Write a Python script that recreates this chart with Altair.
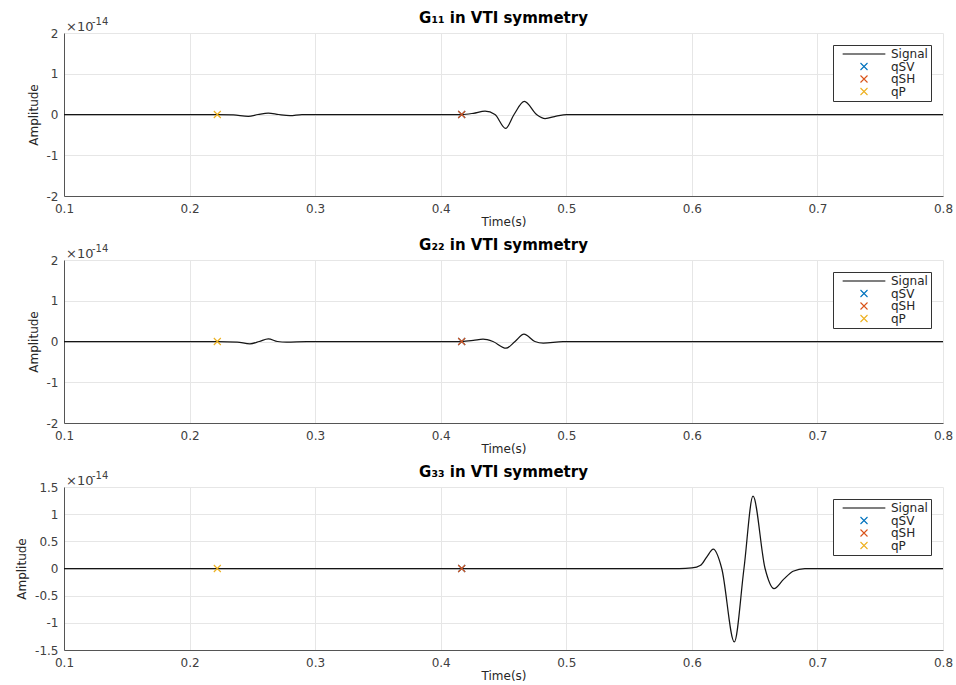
import altair as alt
import pandas as pd

# ---------------- data (amplitudes in units of 1e-14) ----------------
g11_time = [0.10, 0.2221, 0.2350, 0.2468, 0.2545, 0.2627, 0.2710, 0.2800, 0.2895,
            0.4167, 0.4260, 0.4353, 0.4432, 0.4517, 0.4584, 0.4666, 0.4764, 0.4831,
            0.4920, 0.5003, 0.80]
g11_amp = [0, 0, -0.01, -0.045, 0, 0.035, 0, -0.025, 0,
           0, 0.03, 0.083, 0, -0.34, 0, 0.32, 0, -0.10,
           -0.04, 0, 0]

g22_time = [0.10, 0.2221, 0.2380, 0.2481, 0.2555, 0.2627, 0.2700, 0.2773, 0.2933,
            0.4167, 0.4260, 0.4337, 0.4416, 0.4520, 0.4592, 0.4663, 0.4750, 0.4817,
            0.4974, 0.80]
g22_amp = [0, 0, -0.015, -0.057, 0, 0.065, 0, -0.016, 0,
           0, 0.025, 0.057, 0, -0.165, 0, 0.18, 0, -0.04,
           0, 0]

g33_time = [0.10, 0.5900, 0.6000, 0.6070, 0.6118, 0.6171, 0.6238, 0.6338, 0.6415,
            0.6487, 0.6583, 0.6654, 0.6730, 0.6806, 0.6900, 0.80]
g33_amp = [0, 0, 0.01, 0.06, 0.21, 0.355, 0, -1.35, 0,
           1.33, 0, -0.37, -0.20, -0.05, 0, 0]

arrival_phase = ["qSV", "qSH", "qP"]
arrival_time = [0.4167, 0.4167, 0.2221]
arrival_amp = [0, 0, 0]

legend_names = ["Signal", "qSV", "qSH", "qP"]
legend_colors = ["#000000", "#0072BD", "#D95319", "#EDB120"]

titles = ["G\u2081\u2081 in VTI symmetry", "G\u2082\u2082 in VTI symmetry", "G\u2083\u2083 in VTI symmetry"]
x_ticks = [0.1, 0.2, 0.3, 0.4, 0.5, 0.6, 0.7, 0.8]
y_ticks_12 = [-2, -1, 0, 1, 2]
y_ticks_3 = [-1.5, -1.0, -0.5, 0.0, 0.5, 1.0, 1.5]
y_dom_12 = [-2, 2]
y_dom_3 = [-1.5, 1.5]
exp_base = ["\u00d710"]
exp_power = ["-14"]

X_PATH = "M-1,-1L1,1M-1,1L1,-1"
LINE_PATH = "M-6.1,0L6.1,0"
legend_shapes = [LINE_PATH, X_PATH, X_PATH, X_PATH]

FONT = "DejaVu Sans"


def panel(title, t, a, ydom, yticks):
    sig = pd.DataFrame({"t": t, "a": a})
    arr = pd.DataFrame({"t": arrival_time, "a": arrival_amp, "phase": arrival_phase})

    x = alt.X("t:Q",
              scale=alt.Scale(domain=[0.1, 0.8], nice=False, zero=False),
              axis=alt.Axis(title="Time(s)", values=x_ticks, labelExpr="'' + datum.value",
                            labelFlush=False, labelOverlap=False))
    y = alt.Y("a:Q",
              scale=alt.Scale(domain=ydom, nice=False, zero=False),
              axis=alt.Axis(title="Amplitude", values=yticks, labelExpr="'' + datum.value",
                            labelFlush=False, labelOverlap=False, tickCount=len(yticks)))

    line = alt.Chart(sig).mark_line(color="#151515", strokeWidth=1.25,
                                     interpolate="monotone").encode(x=x, y=y)

    pts = alt.Chart(arr).mark_point(filled=False, size=49, strokeWidth=1.1, opacity=1).encode(
        x=x, y=y,
        color=alt.Color("phase:N", scale=alt.Scale(domain=legend_names, range=legend_colors),
                        legend=alt.Legend(title=None)),
        shape=alt.Shape("phase:N", scale=alt.Scale(domain=legend_names, range=legend_shapes),
                        legend=alt.Legend(title=None)),
    )

    e1 = alt.Chart(pd.DataFrame({"s": exp_base})).mark_text(
        align="left", baseline="alphabetic", fontSize=13, font=FONT, color="#404040"
    ).encode(x=alt.value(2), y=alt.value(-2), text="s:N")
    e2 = alt.Chart(pd.DataFrame({"s": exp_power})).mark_text(
        align="left", baseline="alphabetic", fontSize=10, font=FONT, color="#404040"
    ).encode(x=alt.value(28), y=alt.value(-8), text="s:N")

    return alt.layer(line, pts, e1, e2).properties(
        width=879, height=163, title=alt.TitleParams(title, offset=-8.5)
    )


chart = alt.vconcat(
    panel(titles[0], g11_time, g11_amp, y_dom_12, y_ticks_12),
    panel(titles[1], g22_time, g22_amp, y_dom_12, y_ticks_12),
    panel(titles[2], g33_time, g33_amp, y_dom_3, y_ticks_3),
    spacing=10,
).resolve_scale(color="independent", shape="independent", y="independent").properties(
    padding={"left": 15, "top": 10, "right": 0, "bottom": 0},
    background="white",
).configure_view(stroke=None).configure_axis(
    labelFont=FONT, titleFont=FONT, labelFontSize=12, titleFontSize=12,
    labelColor="#404040", titleColor="#262626", titleFontWeight="normal",
    domainColor="#555555", domainWidth=1, gridColor="#e6e6e6", gridWidth=1,
    ticks=False, labelOverlap=False,
).configure_axisX(titlePadding=2, labelPadding=7).configure_axisY(titlePadding=6, labelPadding=6).configure_title(
    font=FONT, fontSize=15, fontWeight="bold", color="#000000", anchor="middle"
).configure_legend(
    orient="top-right", offset=12, padding=3, strokeColor="#333333", fillColor="white",
    labelFont=FONT, labelFontSize=12, labelColor="#262626", symbolSize=49,
    symbolStrokeWidth=1.1, symbolOffset=22, labelOffset=21, rowPadding=0.5, cornerRadius=0,
)

chart.save("out.html", embed_options={"renderer": "svg", "actions": False})
